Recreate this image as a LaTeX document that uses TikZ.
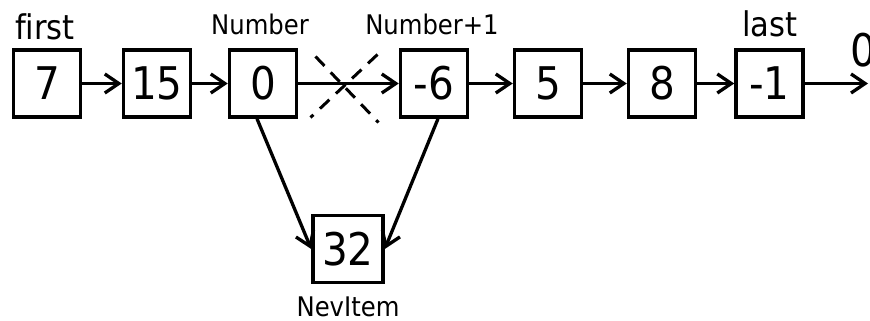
\documentclass[tikz,border=0pt]{standalone}
\usepackage{fontspec}
\setmainfont{DejaVu Sans Condensed}[Ligatures=NoCommon]
\usetikzlibrary{arrows.meta,calc}

\tikzset{
  item/.style={draw,line width=3.5pt,minimum size=67pt,inner sep=0pt,font=\fontsize{45}{45}\selectfont},
  ptr/.style={line width=3.3pt,-{Straight Barb[length=14pt,width=19pt,line width=3.3pt]}},
  tag/.style={anchor=base,inner sep=0pt,font=\fontsize{34}{34}\selectfont},
  small/.style={anchor=base,inner sep=0pt,font=\fontsize{27}{27}\selectfont},
  cut/.style={line width=3pt,dash pattern=on 13pt off 9pt}
}

\begin{document}
\begin{tikzpicture}[x=1pt,y=1pt]
  \useasboundingbox (0,0) rectangle (870,321);
  \begin{scope}
    % the list
    \node[item] (b1) at (47,237.5) {7};
    \node[item] (b2) at (157,237.5) {15};
    \node[item] (b3) at (263,237.5) {0};
    \node[item] (b4) at (434,237.5) {-6};
    \node[item] (b5) at (548,237.5) {5};
    \node[item] (b6) at (662,237.5) {8};
    \node[item] (b7) at (769.5,237.5) {-1};
    \node[item,minimum width=70pt] (new) at (348,72) {32};
    \coordinate (nil) at (868,237.5);

    \node[tag] (first) at (45,281) {first};
    \node[small] (num) at (260,286) {Number};
    \node[small] (num1) at (432,286) {Number+1};
    \node[tag] (last) at (770,284) {last};
    \node[small] (nev) at (348,4) {NevItem};
    \node[anchor=base west,inner sep=0pt,font=\fontsize{45}{45}\selectfont] (zero) at (850,254) {0};

    \draw[ptr] (b1) -- (b2);
    \draw[ptr] (b2) -- (b3);
    \draw[ptr] (b3) -- (b4);
    \draw[ptr] (b4) -- (b5);
    \draw[ptr] (b5) -- (b6);
    \draw[ptr] (b6) -- (b7);
    \draw[ptr] (b7) -- (nil);

    % old link crossed out
    \coordinate (x) at ($(b3.east)!0.5!(b4.west)$);
    \draw[cut] ([shift={(-33,27)}]x) -- ([shift={(30,-39)}]x);
    \draw[cut] ([shift={(29,29)}]x) -- ([shift={(-38,-34)}]x);

    % new links
    \draw[ptr] ([xshift=-6pt]b3.south) -- (new.west);
    \draw[ptr] ([xshift=4pt]b4.south) -- (new.east);
  \end{scope}
\end{tikzpicture}
\end{document}
